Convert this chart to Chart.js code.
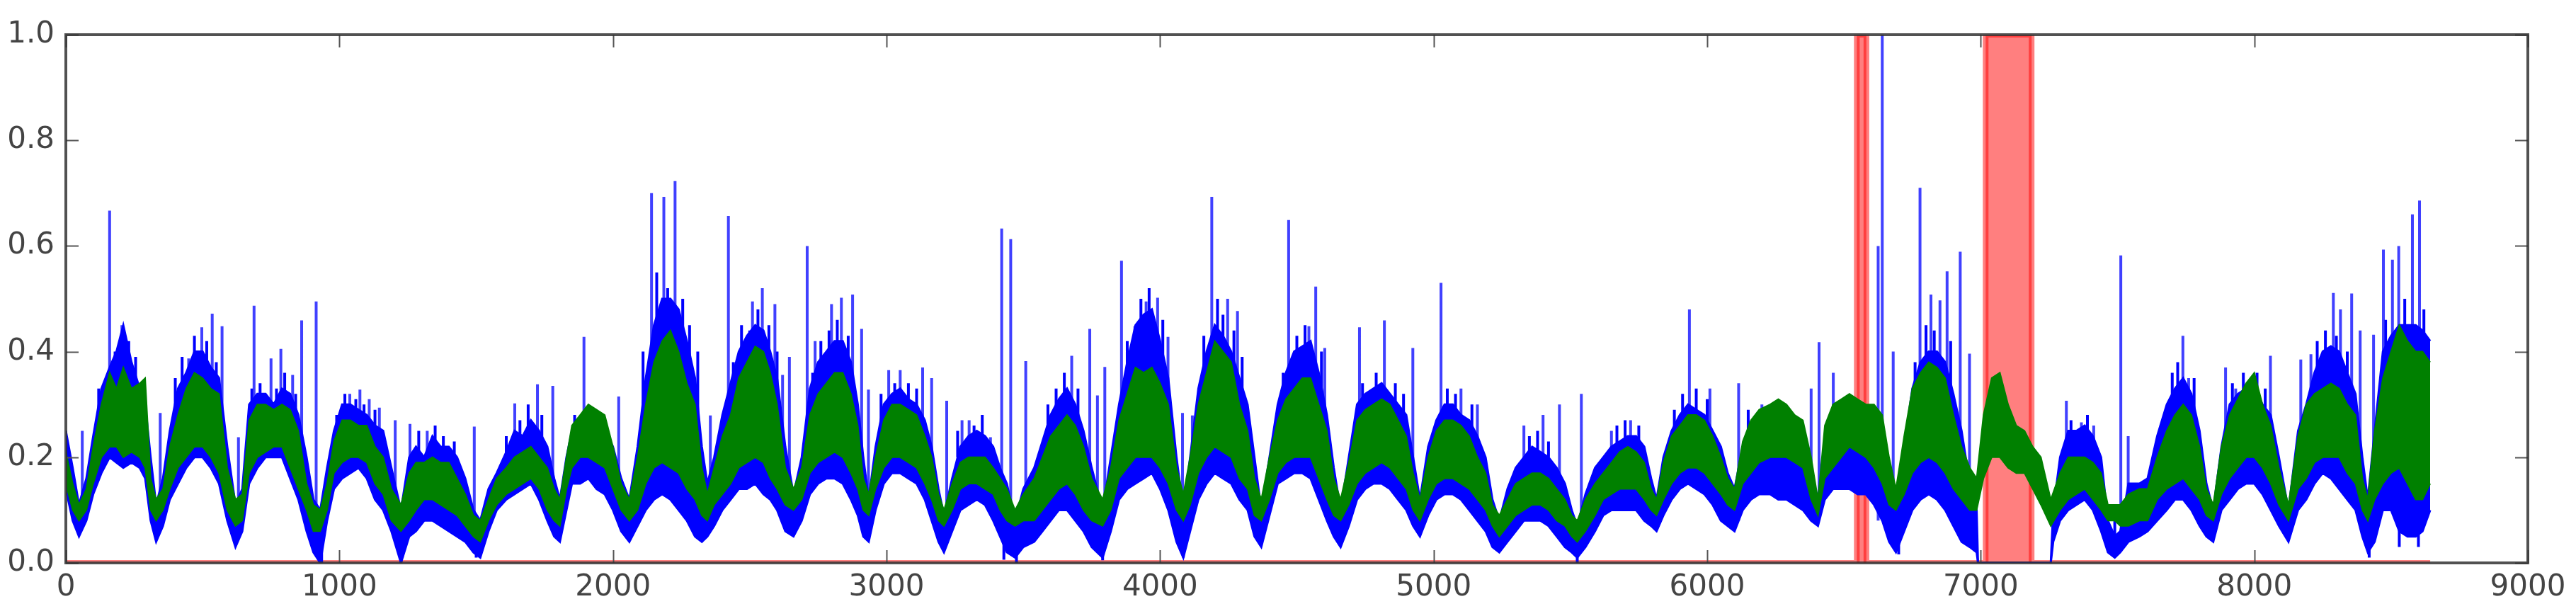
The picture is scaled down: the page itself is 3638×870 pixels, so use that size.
<!DOCTYPE html>
<html lang="en">
<head>
    <meta charset="UTF-8">
    <title>Anomaly detection plot</title>
    <script src="https://cdn.jsdelivr.net/npm/chart.js"></script>
    <style>
        html, body {
            margin: 0;
            padding: 0;
            background: #ffffff;
        }
        #wrap {
            width: 3638px;
            height: 870px;
        }
    </style>
</head>
<body>
<div id="wrap">
    <canvas id="chart" width="3638" height="870"></canvas>
</div>
<script>
// axis ticks
const xTicks = [0, 1000, 2000, 3000, 4000, 5000, 6000, 7000, 8000, 9000];
const yTicks = [0.0, 0.2, 0.4, 0.6, 0.8, 1.0];

// observed series (blue): [x, low edge, high edge] of the dense noisy band
const blueBand = [
    [0,.14,.25],[25,.08,.18],[48,.05,.11],[75,.08,.16],[100,.13,.24],[130,.17,.33],[160,.2,.37],[185,.19,.4],
    [210,.18,.45],[240,.19,.38],[270,.18,.33],[290,.16,.3],[310,.08,.2],[330,.04,.11],[355,.07,.16],[380,.12,.25],
    [410,.15,.33],[440,.18,.36],[470,.2,.4],[500,.2,.4],[530,.18,.37],[560,.15,.35],[590,.08,.22],[620,.03,.11],
    [645,.06,.14],[670,.15,.3],[700,.18,.32],[730,.2,.32],[760,.2,.3],[790,.2,.33],[820,.16,.32],[850,.12,.28],
    [880,.06,.2],[905,.02,.12],[930,0,.1],[955,.08,.18],[980,.14,.25],[1010,.16,.3],[1040,.17,.3],[1070,.18,.29],
    [1100,.16,.28],[1130,.12,.26],[1160,.1,.25],[1190,.06,.18],[1225,0,.1],[1255,.05,.2],[1280,.06,.22],[1310,.08,.2],
    [1340,.08,.24],[1370,.07,.22],[1400,.06,.22],[1430,.05,.2],[1460,.04,.16],[1490,.02,.1],[1515,.01,.08],[1545,.06,.14],
    [1575,.1,.17],[1610,.12,.21],[1640,.13,.25],[1670,.14,.24],[1700,.15,.27],[1730,.12,.25],[1760,.08,.22],[1785,.05,.16],
    [1806,.04,.12],[1830,.1,.2],[1850,.15,.25],[1880,.15,.26],[1910,.16,.27],[1940,.14,.26],[1970,.13,.25],[2000,.1,.22],
    [2030,.06,.16],[2060,.04,.12],[2090,.07,.22],[2120,.1,.35],[2150,.12,.45],[2180,.13,.5],[2210,.12,.5],[2240,.1,.48],
    [2270,.08,.42],[2300,.05,.35],[2325,.04,.22],[2345,.05,.15],[2370,.07,.2],[2400,.1,.28],[2430,.12,.34],[2460,.14,.4],
    [2490,.14,.43],[2520,.15,.45],[2550,.13,.44],[2575,.12,.4],[2600,.1,.35],[2630,.06,.22],[2660,.05,.13],[2690,.08,.2],
    [2720,.13,.33],[2750,.15,.38],[2780,.16,.4],[2810,.16,.42],[2840,.15,.42],[2870,.12,.38],[2895,.09,.3],[2915,.05,.2],
    [2935,.04,.12],[2960,.1,.22],[2990,.15,.3],[3020,.17,.32],[3050,.17,.33],[3080,.16,.31],[3110,.15,.3],[3140,.12,.27],
    [3165,.08,.22],[3190,.04,.14],[3210,.02,.09],[3240,.06,.16],[3270,.1,.22],[3300,.11,.24],[3330,.12,.25],[3360,.11,.24],
    [3390,.08,.22],[3415,.05,.18],[3440,.02,.15],[3470,.01,.08],[3500,.03,.14],[3540,.04,.18],[3570,.06,.23],[3600,.08,.28],
    [3630,.1,.31],[3660,.1,.33],[3690,.08,.3],[3720,.06,.25],[3750,.03,.18],[3790,.01,.1],[3820,.06,.2],[3850,.12,.3],
    [3880,.14,.38],[3910,.15,.45],[3940,.16,.47],[3970,.17,.48],[4000,.14,.42],[4030,.1,.35],[4060,.04,.2],[4085,.01,.1],
    [4110,.06,.2],[4140,.12,.33],[4170,.15,.4],[4200,.17,.45],[4230,.16,.43],[4260,.15,.4],[4290,.12,.35],[4320,.1,.3],
    [4345,.05,.2],[4370,.03,.1],[4400,.09,.2],[4430,.15,.3],[4460,.16,.36],[4490,.17,.4],[4520,.17,.41],[4550,.16,.42],
    [4580,.12,.36],[4610,.08,.28],[4635,.05,.18],[4660,.03,.1],[4690,.07,.2],[4720,.12,.3],[4750,.14,.32],[4780,.15,.33],
    [4810,.15,.34],[4840,.14,.32],[4870,.12,.3],[4900,.1,.28],[4925,.07,.2],[4950,.05,.12],[4980,.09,.22],[5010,.12,.27],
    [5040,.13,.3],[5070,.13,.3],[5100,.12,.28],[5130,.1,.27],[5160,.08,.24],[5190,.06,.2],[5215,.03,.12],[5240,.02,.08],
    [5270,.04,.14],[5300,.06,.18],[5330,.08,.2],[5360,.08,.22],[5390,.08,.21],[5420,.07,.2],[5450,.05,.18],[5480,.03,.15],
    [5505,.02,.1],[5525,.01,.07],[5555,.03,.13],[5590,.06,.18],[5620,.09,.2],[5650,.1,.22],[5680,.1,.23],[5710,.1,.24],
    [5740,.1,.24],[5770,.08,.22],[5795,.07,.16],[5815,.06,.12],[5840,.09,.2],[5870,.12,.25],[5900,.14,.28],[5930,.15,.3],
    [5960,.14,.29],[5990,.13,.28],[6020,.11,.25],[6050,.08,.22],[6075,.07,.17],[6100,.06,.14],[6130,.1,.22],[6160,.12,.25],
    [6190,.13,.27],[6230,.13,.28],[6260,.12,.25],[6290,.12,.22],[6320,.11,.2],[6350,.1,.2],[6380,.08,.17],[6405,.07,.12],
    [6430,.12,.2],[6460,.14,.22],[6490,.14,.23],[6520,.14,.23],[6550,.13,.22],[6580,.13,.22],[6610,.11,.21],[6640,.08,.2],
    [6665,.04,.15],[6690,.02,.12],[6720,.06,.22],[6750,.1,.33],[6780,.12,.38],[6810,.13,.4],[6840,.12,.4],[6870,.1,.38],
    [6900,.07,.32],[6930,.04,.25],[6960,.03,.15],[6985,.02,.1],[6990,0,0],[7256,0,0],[7265,.04,.1],[7290,.08,.2],
    [7320,.1,.25],[7350,.11,.25],[7380,.12,.26],[7410,.1,.24],[7440,.06,.2],[7465,.02,.08],[7490,.01,.05],[7510,.02,.06],
    [7540,.04,.15],[7580,.05,.15],[7610,.06,.16],[7645,.08,.24],[7680,.1,.3],[7710,.12,.33],[7740,.12,.35],[7770,.1,.32],
    [7800,.07,.25],[7825,.05,.15],[7850,.04,.1],[7880,.1,.22],[7910,.12,.3],[7940,.14,.32],[7970,.15,.33],[8000,.15,.33],
    [8030,.13,.3],[8060,.1,.28],[8090,.07,.2],[8125,.04,.1],[8160,.1,.25],[8190,.12,.3],[8220,.15,.36],[8250,.17,.4],
    [8280,.16,.41],[8310,.14,.4],[8340,.12,.36],[8370,.1,.32],[8395,.05,.2],[8415,.02,.12],[8440,.04,.25],[8470,.1,.4],
    [8500,.1,.43],[8530,.06,.45],[8560,.05,.45],[8590,.05,.45],[8615,.06,.44],[8643,.1,.42]
];

// predicted series (green): [x, low edge, high edge]
const greenBand = [
    [0,.15,.21],[25,.1,.15],[48,.08,.11],[75,.1,.14],[100,.15,.22],[130,.2,.3],[160,.22,.36],[185,.22,.33],
    [210,.2,.37],[240,.21,.33],[270,.2,.34],[290,.18,.35],[310,.1,.16],[330,.08,.12],[355,.1,.14],[380,.14,.22],
    [410,.18,.28],[440,.2,.33],[470,.22,.36],[500,.22,.35],[530,.2,.33],[560,.17,.32],[590,.1,.18],[620,.07,.12],
    [645,.08,.13],[670,.17,.27],[700,.2,.3],[730,.21,.3],[760,.22,.29],[790,.22,.3],[820,.18,.29],[850,.14,.25],
    [880,.1,.15],[905,.06,.11],[930,.06,.1],[955,.1,.15],[980,.17,.23],[1010,.19,.27],[1040,.2,.27],[1070,.2,.26],
    [1100,.19,.26],[1130,.15,.22],[1160,.13,.2],[1190,.08,.14],[1225,.06,.11],[1255,.08,.17],[1280,.1,.19],[1310,.12,.19],
    [1340,.12,.2],[1370,.11,.19],[1400,.1,.19],[1430,.09,.16],[1460,.07,.13],[1490,.05,.09],[1515,.04,.08],[1545,.08,.12],
    [1575,.11,.16],[1610,.13,.18],[1640,.14,.2],[1670,.15,.21],[1700,.16,.22],[1730,.14,.2],[1760,.1,.18],[1785,.08,.14],
    [1806,.07,.12],[1830,.14,.2],[1850,.18,.26],[1880,.2,.28],[1910,.2,.3],[1940,.19,.29],[1970,.18,.28],[2000,.14,.22],
    [2030,.1,.15],[2060,.08,.12],[2090,.1,.2],[2120,.15,.3],[2150,.18,.38],[2180,.19,.42],[2210,.18,.44],[2240,.17,.4],
    [2270,.14,.34],[2300,.12,.3],[2325,.09,.18],[2345,.08,.13],[2370,.11,.18],[2400,.13,.24],[2430,.15,.28],[2460,.18,.35],
    [2490,.19,.38],[2520,.2,.41],[2550,.19,.4],[2575,.16,.36],[2600,.14,.3],[2630,.11,.18],[2660,.1,.14],[2690,.12,.18],
    [2720,.17,.28],[2750,.19,.32],[2780,.2,.34],[2810,.21,.36],[2840,.2,.36],[2870,.17,.32],[2895,.14,.26],[2915,.1,.16],
    [2935,.09,.13],[2960,.14,.2],[2990,.18,.27],[3020,.2,.3],[3050,.2,.3],[3080,.19,.29],[3110,.18,.28],[3140,.15,.24],
    [3165,.12,.2],[3190,.08,.13],[3210,.07,.1],[3240,.1,.15],[3270,.14,.19],[3300,.15,.2],[3330,.15,.2],[3360,.14,.2],
    [3390,.13,.18],[3415,.1,.16],[3440,.08,.14],[3470,.07,.1],[3500,.08,.13],[3540,.08,.16],[3570,.1,.2],[3600,.12,.24],
    [3630,.14,.26],[3660,.15,.28],[3690,.13,.26],[3720,.1,.22],[3750,.08,.16],[3790,.07,.12],[3820,.1,.18],[3850,.16,.27],
    [3880,.18,.32],[3910,.2,.37],[3940,.2,.36],[3970,.2,.37],[4000,.18,.34],[4030,.15,.3],[4060,.1,.18],[4085,.08,.13],
    [4110,.11,.2],[4140,.17,.3],[4170,.2,.36],[4200,.22,.42],[4230,.21,.4],[4260,.2,.38],[4290,.16,.3],[4320,.14,.25],
    [4345,.09,.16],[4370,.08,.12],[4400,.12,.2],[4430,.17,.27],[4460,.19,.31],[4490,.2,.33],[4520,.2,.35],[4550,.2,.35],
    [4580,.16,.3],[4610,.12,.25],[4635,.09,.16],[4660,.08,.12],[4690,.11,.19],[4720,.15,.27],[4750,.17,.29],[4780,.18,.3],
    [4810,.19,.31],[4840,.18,.3],[4870,.16,.27],[4900,.14,.24],[4925,.1,.17],[4950,.08,.12],[4980,.12,.2],[5010,.15,.25],
    [5040,.16,.27],[5070,.16,.27],[5100,.15,.26],[5130,.14,.24],[5160,.12,.2],[5190,.1,.17],[5215,.07,.11],[5240,.05,.09],
    [5270,.07,.12],[5300,.09,.15],[5330,.1,.16],[5360,.11,.17],[5390,.11,.17],[5420,.1,.16],[5450,.08,.14],[5480,.07,.12],
    [5505,.05,.09],[5525,.04,.08],[5555,.06,.12],[5590,.09,.15],[5620,.12,.17],[5650,.13,.19],[5680,.14,.21],[5710,.14,.22],
    [5740,.14,.21],[5770,.12,.19],[5795,.1,.14],[5815,.09,.12],[5840,.12,.19],[5870,.15,.24],[5900,.17,.26],[5930,.18,.28],
    [5960,.18,.28],[5990,.17,.27],[6020,.15,.24],[6050,.13,.2],[6075,.11,.16],[6100,.1,.14],[6130,.15,.23],[6160,.17,.27],
    [6190,.19,.29],[6230,.2,.3],[6260,.2,.31],[6290,.2,.3],[6320,.19,.28],[6350,.18,.27],[6380,.12,.2],[6405,.09,.12],
    [6430,.16,.26],[6460,.18,.3],[6490,.2,.31],[6520,.22,.32],[6550,.21,.31],[6580,.2,.3],[6610,.18,.3],[6640,.15,.28],
    [6665,.11,.2],[6690,.1,.14],[6720,.13,.24],[6750,.17,.33],[6780,.19,.36],[6810,.2,.38],[6840,.19,.37],[6870,.17,.35],
    [6900,.14,.28],[6930,.12,.22],[6960,.1,.18],[6985,.1,.16],[7010,.16,.28],[7040,.2,.35],[7070,.2,.36],[7100,.18,.3],
    [7130,.17,.26],[7160,.17,.25],[7190,.14,.22],[7220,.11,.2],[7256,.07,.12],[7290,.1,.17],[7320,.12,.2],[7350,.13,.2],
    [7380,.14,.2],[7410,.12,.19],[7440,.1,.17],[7465,.08,.11],[7490,.08,.11],[7510,.07,.11],[7540,.07,.13],[7580,.08,.14],
    [7610,.08,.14],[7645,.12,.2],[7680,.14,.25],[7710,.15,.28],[7740,.16,.3],[7770,.14,.28],[7800,.12,.22],[7825,.09,.14],
    [7850,.08,.11],[7880,.13,.22],[7910,.16,.28],[7940,.18,.31],[7970,.2,.34],[8000,.2,.36],[8030,.18,.3],[8060,.15,.26],
    [8090,.11,.18],[8125,.08,.11],[8160,.14,.24],[8190,.16,.3],[8220,.19,.32],[8250,.2,.33],[8280,.2,.34],[8310,.2,.33],
    [8340,.17,.3],[8370,.15,.28],[8395,.1,.16],[8415,.08,.12],[8440,.12,.25],[8470,.15,.35],[8500,.17,.4],[8530,.18,.45],
    [8560,.15,.42],[8590,.12,.4],[8615,.12,.4],[8643,.15,.38]
];

// tall isolated spikes rising out of the daily humps
const spikeX = [160,205,449,497,535,571,688,750,786,829,862,1038,1075,1109,1146,1641,1724,1894,2141,2186,2227,2422,
    2510,2546,2592,2620,2710,2739,2799,2835,2876,2909,3008,3050,3132,3165,3276,3302,3380,3677,3859,3908,3949,3991,
    4029,4189,4247,4283,4470,4544,4569,4602,4729,4820,5027,5100,5160,5650,5720,5935,6010,6200,6461,6778,6818,6851,
    6877,6925,7313,7368,7413,7739,7760,7895,7932,8059,8170,8207,8289,8315,8356,8387,8472,8505,8528,8578,8604];
const spikeTop = [.667,.45,.387,.446,.472,.448,.487,.387,.405,.356,.459,.32,.328,.31,.294,.302,.338,.428,.70,.693,.723,.657,
    .495,.52,.49,.356,.6,.42,.49,.502,.508,.443,.365,.365,.37,.35,.27,.27,.238,.392,.572,.448,.495,.502,
    .428,.693,.5,.477,.649,.448,.523,.407,.446,.459,.53,.33,.3,.25,.27,.48,.33,.3,.36,.71,.508,.497,
    .552,.589,.307,.266,.26,.43,.35,.37,.33,.392,.385,.395,.511,.48,.51,.44,.593,.574,.6,.66,.686];

// spikes that start from the daily minima
const lowSpikeX = [60,345,631,915,1204,1258,1321,1493,1780,2021,2356,2645,2934,3220,3421,3454,3509,3743,3771,3798,
    4082,4118,4924,5330,5400,5460,5540,6115,6380,6409,6625,6640,6680,6959,7512,7539,8436];
const lowSpikeTop = [.25,.284,.238,.495,.27,.263,.25,.258,.335,.315,.279,.39,.328,.307,.633,.613,.382,.443,.317,.371,
    .284,.279,.407,.26,.28,.3,.32,.34,.33,.418,.6,1.0,.4,.396,.582,.24,.432];

// shorter spikes that make the hairy top of each daily hump
const hairX = [120,180,230,255,280,400,425,470,515,550,680,710,770,800,840,990,1020,1060,1090,1130,1290,1350,1380,1420,
    1610,1660,1690,1740,1860,1930,1960,2110,2160,2200,2255,2280,2310,2440,2470,2500,2530,2570,2600,2730,2760,2790,2820,
    2860,2980,3030,3080,3110,3260,3320,3350,3590,3620,3650,3700,3880,3930,3960,4010,4160,4210,4230,4270,4300,4450,4500,
    4530,4590,4740,4790,4860,4890,5050,5080,5140,5350,5380,5420,5670,5700,5750,5880,5910,5960,6000,6150,6240,6280,6330,
    6470,6530,6600,6760,6800,6830,6890,7330,7390,7700,7720,7780,7920,7960,8010,8040,8230,8260,8300,8340,8480,8550,8620];
const hairTop = [.33,.4,.42,.39,.34,.35,.39,.43,.42,.38,.33,.34,.33,.36,.32,.28,.32,.31,.3,.29,.25,.26,.24,.23,
    .24,.27,.3,.28,.28,.29,.27,.4,.55,.52,.5,.45,.4,.38,.45,.44,.48,.45,.4,.36,.42,.44,.46,
    .43,.32,.34,.34,.33,.25,.26,.28,.3,.33,.36,.33,.42,.5,.52,.46,.43,.5,.47,.44,.39,.36,.43,
    .45,.4,.34,.36,.34,.32,.33,.32,.3,.24,.25,.23,.26,.27,.26,.29,.32,.33,.31,.29,.3,.28,.25,
    .26,.25,.24,.38,.45,.44,.42,.27,.28,.36,.38,.35,.34,.36,.36,.33,.42,.44,.43,.4,.46,.5,.48];

// narrow downward drops of the observed series
const dropX = [935,1225,1230,1500,3429,3475,3790,4085,5525,6700,7490,8420,8530,8600];
const dropBottom = [0,0,.01,.01,.006,0,.005,.01,0,.016,.01,.01,.03,.03];

// anomaly windows (red shading)
const anomalyStart = [6547, 7018];
const anomalyEnd = [6582, 7186];
const seriesEnd = 8643;

const blueLo = blueBand.map(r => ({x: r[0], y: r[1]}));
const blueHi = blueBand.map(r => ({x: r[0], y: r[2]}));
const greenLo = greenBand.map(r => ({x: r[0], y: r[1]}));
const greenHi = greenBand.map(r => ({x: r[0], y: r[2]}));

// each spike is a vertical segment starting inside the band, separated by gaps
function segments(xs, ends, start) {
    const out = [];
    xs.forEach((x, i) => {
        out.push({x: x, y: start}, {x: x, y: ends[i]}, {x: x, y: null});
    });
    return out;
}
const spikes = segments(spikeX, spikeTop, 0.2);
const lowSpikes = segments(lowSpikeX, lowSpikeTop, 0.08);
const hairs = segments(hairX, hairTop, 0.2);
const drops = segments(dropX, dropBottom, 0.08);

const anomaly = [{x: 0, y: 0}];
anomalyStart.forEach((s, i) => {
    anomaly.push({x: s, y: 0}, {x: s, y: 1}, {x: anomalyEnd[i], y: 1}, {x: anomalyEnd[i], y: 0});
});
anomaly.push({x: seriesEnd, y: 0});

// frame and inward ticks like the classic matplotlib look
const framePlugin = {
    id: 'frame',
    afterDatasetsDraw(chart) {
        const {ctx, chartArea: a, scales} = chart;
        ctx.save();
        ctx.strokeStyle = '#555';
        ctx.lineWidth = 2;
        xTicks.forEach(v => {
            const px = Math.round(scales.x.getPixelForValue(v)) + 0.5;
            ctx.beginPath();
            ctx.moveTo(px, a.bottom); ctx.lineTo(px, a.bottom - 18);
            ctx.moveTo(px, a.top); ctx.lineTo(px, a.top + 18);
            ctx.stroke();
        });
        yTicks.forEach(v => {
            const py = Math.round(scales.y.getPixelForValue(v)) + 0.5;
            ctx.beginPath();
            ctx.moveTo(a.left, py); ctx.lineTo(a.left + 18, py);
            ctx.moveTo(a.right, py); ctx.lineTo(a.right - 18, py);
            ctx.stroke();
        });
        ctx.strokeStyle = 'rgba(50,50,50,0.85)';
        ctx.lineWidth = 4;
        ctx.strokeRect(a.left, a.top, a.right - a.left, a.bottom - a.top);
        ctx.restore();
    }
};

const spikeStyle = {order: 4, borderColor: 'rgba(30,30,255,0.85)', borderWidth: 4, fill: false, spanGaps: false};

const ctx = document.getElementById('chart').getContext('2d');
const chart = new Chart(ctx, {
    type: 'line',
    data: {
        datasets: [
            {
                data: greenLo, order: 1,
                borderColor: '#008000', borderWidth: 2, fill: false
            },
            {
                data: greenHi, order: 1,
                borderColor: '#008000', borderWidth: 2,
                backgroundColor: '#008000', fill: '-1'
            },
            {
                data: blueLo, order: 3,
                borderColor: '#0000ff', borderWidth: 3, fill: false
            },
            {
                data: blueHi, order: 3,
                borderColor: '#0000ff', borderWidth: 3,
                backgroundColor: '#0000ff', fill: '-1'
            },
            Object.assign({data: spikes}, spikeStyle),
            Object.assign({data: lowSpikes}, spikeStyle),
            Object.assign({data: hairs}, spikeStyle, {borderColor: '#0000ff'}),
            Object.assign({data: drops}, spikeStyle, {borderColor: '#0000ff'}),
            {
                data: anomaly, order: 6,
                borderColor: 'rgba(255,0,0,0.5)', borderWidth: 8,
                backgroundColor: 'rgba(255,0,0,0.5)', fill: 'origin'
            }
        ]
    },
    options: {
        responsive: false,
        animation: false,
        devicePixelRatio: 1,
        elements: {
            point: {radius: 0},
            line: {tension: 0, borderJoinStyle: 'miter'}
        },
        layout: {padding: {left: 0, top: 49, right: 68, bottom: 0}},
        plugins: {
            legend: {display: false},
            tooltip: {enabled: false}
        },
        scales: {
            x: {
                type: 'linear',
                min: 0, max: 9000,
                grid: {display: false, drawTicks: false},
                border: {display: false},
                afterFit(s) { s.height = 75; },
                afterBuildTicks(s) { s.ticks = xTicks.map(v => ({value: v})); },
                ticks: {
                    padding: 10,
                    color: '#444',
                    font: {family: 'DejaVu Sans', size: 42},
                    maxRotation: 0,
                    callback: v => String(v)
                }
            },
            y: {
                min: 0, max: 1,
                grid: {display: false, drawTicks: false},
                border: {display: false},
                afterFit(s) { s.width = 93; },
                afterBuildTicks(s) { s.ticks = yTicks.map(v => ({value: v})); },
                ticks: {
                    padding: 16,
                    color: '#444',
                    font: {family: 'DejaVu Sans', size: 42},
                    callback: v => Number(v).toFixed(1)
                }
            }
        }
    },
    plugins: [framePlugin]
});
</script>
</body>
</html>
